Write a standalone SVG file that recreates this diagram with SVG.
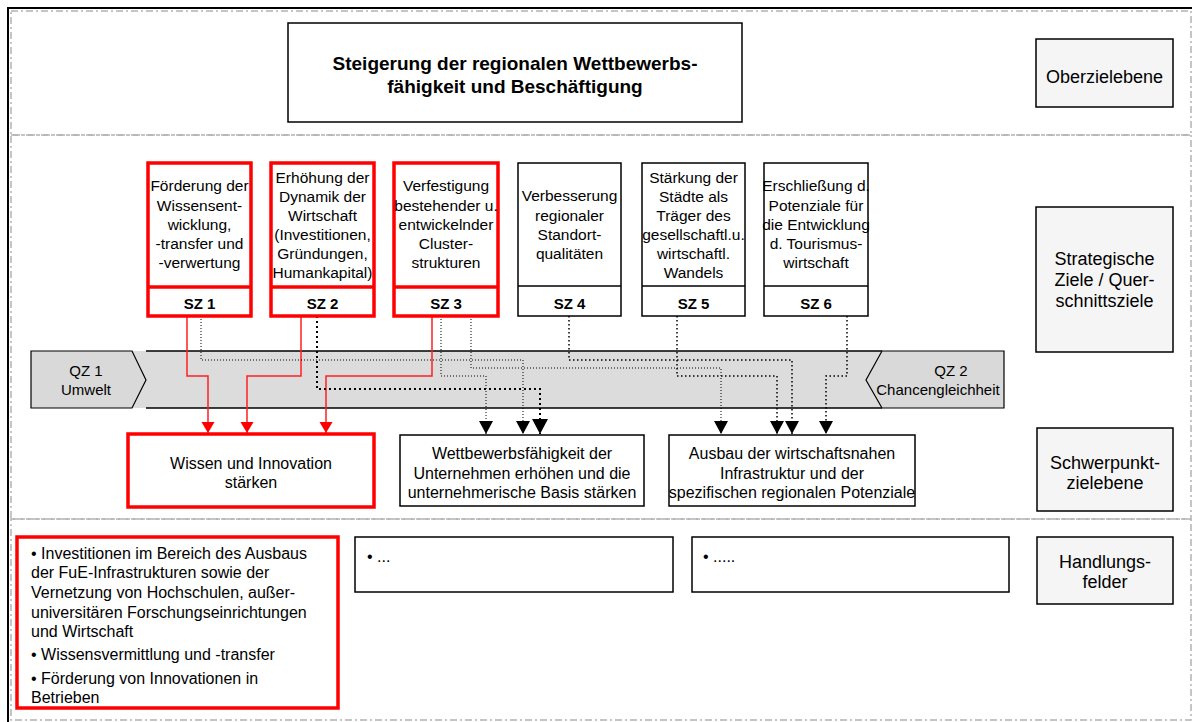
<svg xmlns="http://www.w3.org/2000/svg" width="1195" height="722" viewBox="0 0 1195 722">
<style>
text{font-family:"Liberation Sans",Arial,sans-serif;fill:#000}
.t16{font-size:16px;text-anchor:middle}
.sz{font-size:15.5px;text-anchor:middle}
.szl{font-size:15px;font-weight:bold;text-anchor:middle}
.lab{font-size:18px;text-anchor:middle}
.bl{font-size:16px}
.frame{fill:none;stroke:#b3b3b3;stroke-width:1.5;stroke-dasharray:7 3 2 3}
.box{fill:#fff;stroke:#000;stroke-width:1.5}
.rbox{fill:#fff;stroke:#ff0000;stroke-width:3.5}
.lbox{fill:#f5f5f5;stroke:#000;stroke-width:1.5}
.red{fill:none;stroke:#ff2020;stroke-width:1.5}
.d1{fill:none;stroke:#000;stroke-width:1;stroke-dasharray:1 2}
.d2{fill:none;stroke:#000;stroke-width:2;stroke-dasharray:2 3}
.d3{fill:none;stroke:#000;stroke-width:1.5;stroke-dasharray:1.5 2.5}
</style>
<defs>
<marker id="ab" markerUnits="userSpaceOnUse" markerWidth="16" markerHeight="14" refX="7" refY="13" orient="0" viewBox="0 0 14 14"><path d="M0,0 L14,0 L7,13 Z" fill="#000"/></marker>
<marker id="abl" markerUnits="userSpaceOnUse" markerWidth="18" markerHeight="16" refX="8" refY="15" orient="0" viewBox="0 0 16 16"><path d="M0,0 L16,0 L8,15 Z" fill="#000"/></marker>
<marker id="ar" markerUnits="userSpaceOnUse" markerWidth="14" markerHeight="12" refX="6.5" refY="11" orient="0" viewBox="0 0 13 12"><path d="M0,0 L13,0 L6.5,11 Z" fill="#ff0000"/></marker>
</defs>
<rect x="0" y="0" width="1195" height="722" fill="#fff"/>
<g id="frame">
<rect class="frame" x="11" y="11" width="1180" height="124"/>
<rect class="frame" x="11" y="135" width="1180" height="384"/>
<rect class="frame" x="11" y="519" width="1180" height="201"/>
<path d="M8,722 V8 H1192" fill="none" stroke="#000" stroke-width="2"/>
</g>
<g id="qz-band">
<rect x="132" y="351" width="750" height="57" fill="#dcdcdc"/>
<path d="M146,351 H882 M146,408 H882" stroke="#000" stroke-width="1.5"/>
</g>
<g id="qz1">
<path d="M31,351 H132 L146,380 L132,408 H31 Z" fill="#d9d9d9" stroke="#000" stroke-width="1.2"/>
<text class="t16" x="86" y="376" style="font-size:15px">QZ 1</text>
<text class="t16" x="86" y="395" style="font-size:15px">Umwelt</text>
</g>
<g id="qz2">
<path d="M882,351 H1004 V408 H882 L866,380 Z" fill="#d9d9d9" stroke="#000" stroke-width="1.2"/>
<text class="t16" x="951" y="376" style="font-size:15px">QZ 2</text>
<text class="t16" x="938" y="395" style="font-size:15px">Chancengleichheit</text>
</g>
<g id="connectors">
<path class="red" d="M187,316 V376 H208 V433" marker-end="url(#ar)"/>
<path class="red" d="M301,316 V376 H247 V433" marker-end="url(#ar)"/>
<path class="red" d="M432,316 V376 H326 V433" marker-end="url(#ar)"/>
<path class="d1" d="M201,316 V360 H523 V434" marker-end="url(#ab)"/>
<path class="d2" d="M317,316 V389 H540 V434" marker-end="url(#abl)"/>
<path class="d1" d="M441,316 V376 H486 V434" marker-end="url(#ab)"/>
<path class="d1" d="M471,316 V368 H721 V434" marker-end="url(#ab)"/>
<path class="d3" d="M569,316 V360 H792 V434" marker-end="url(#ab)"/>
<path class="d3" d="M677,316 V376 H777 V434" marker-end="url(#ab)"/>
<path class="d3" d="M847,316 V376 H826 V434" marker-end="url(#ab)"/>
</g>
<g id="oberziel">
<rect class="box" x="288" y="23" width="454" height="99"/>
<text x="515" y="70" style="font-size:19px;font-weight:bold;text-anchor:middle">Steigerung der regionalen Wettbewerbs-</text>
<text x="515" y="93" style="font-size:19px;font-weight:bold;text-anchor:middle">fähigkeit und Beschäftigung</text>
</g>
<g id="sz1">
<rect class="rbox" x="148" y="163" width="103" height="153"/>
<line x1="148" y1="287" x2="251" y2="287" stroke="#ff0000" stroke-width="3.5"/>
<text class="sz" x="199.5" y="191">Förderung der</text>
<text class="sz" x="199.5" y="211">Wissensent-</text>
<text class="sz" x="199.5" y="230">wicklung,</text>
<text class="sz" x="199.5" y="249">-transfer und</text>
<text class="sz" x="199.5" y="268">-verwertung</text>
<text class="szl" x="199.5" y="309">SZ 1</text>
</g>
<g id="sz2">
<rect class="rbox" x="271" y="163" width="103" height="153"/>
<line x1="271" y1="287" x2="374" y2="287" stroke="#ff0000" stroke-width="3.5"/>
<text class="sz" x="322.5" y="183">Erhöhung der</text>
<text class="sz" x="322.5" y="202">Dynamik der</text>
<text class="sz" x="322.5" y="221">Wirtschaft</text>
<text class="sz" x="322.5" y="240">(Investitionen,</text>
<text class="sz" x="322.5" y="259">Gründungen,</text>
<text class="sz" x="322.5" y="278">Humankapital)</text>
<text class="szl" x="322.5" y="309">SZ 2</text>
</g>
<g id="sz3">
<rect class="rbox" x="394" y="163" width="104" height="153"/>
<line x1="394" y1="287" x2="498" y2="287" stroke="#ff0000" stroke-width="3.5"/>
<text class="sz" x="446" y="191">Verfestigung</text>
<text class="sz" x="446" y="211">bestehender u.</text>
<text class="sz" x="446" y="230">entwickelnder</text>
<text class="sz" x="446" y="249">Cluster-</text>
<text class="sz" x="446" y="268">strukturen</text>
<text class="szl" x="446" y="309">SZ 3</text>
</g>
<g id="sz4">
<rect class="box" x="518" y="163" width="103" height="153"/>
<line x1="518" y1="286" x2="621" y2="286" stroke="#000" stroke-width="1.5"/>
<text class="sz" x="569.5" y="201">Verbesserung</text>
<text class="sz" x="569.5" y="221">regionaler</text>
<text class="sz" x="569.5" y="240">Standort-</text>
<text class="sz" x="569.5" y="259">qualitäten</text>
<text class="szl" x="569.5" y="309">SZ 4</text>
</g>
<g id="sz5">
<rect class="box" x="642" y="163" width="103" height="153"/>
<line x1="642" y1="286" x2="745" y2="286" stroke="#000" stroke-width="1.5"/>
<text class="sz" x="693.5" y="183">Stärkung der</text>
<text class="sz" x="693.5" y="202">Städte als</text>
<text class="sz" x="693.5" y="221">Träger des</text>
<text class="sz" x="693.5" y="240">gesellschaftl.u.</text>
<text class="sz" x="693.5" y="259">wirtschaftl.</text>
<text class="sz" x="693.5" y="278">Wandels</text>
<text class="szl" x="693.5" y="309">SZ 5</text>
</g>
<g id="sz6">
<rect class="box" x="764" y="163" width="104" height="153"/>
<line x1="764" y1="286" x2="868" y2="286" stroke="#000" stroke-width="1.5"/>
<text class="sz" x="816" y="191">Erschließung d.</text>
<text class="sz" x="816" y="211">Potenziale für</text>
<text class="sz" x="816" y="230">die Entwicklung</text>
<text class="sz" x="816" y="249">d. Tourismus-</text>
<text class="sz" x="816" y="268">wirtschaft</text>
<text class="szl" x="816" y="309">SZ 6</text>
</g>
<g id="spz1">
<rect class="rbox" x="128" y="434" width="246" height="73"/>
<text class="t16" x="251" y="469">Wissen und Innovation</text>
<text class="t16" x="251" y="488">stärken</text>
</g>
<g id="spz2">
<rect class="box" x="400" y="435" width="244" height="71"/>
<text class="t16" x="522" y="459">Wettbewerbsfähigkeit der</text>
<text class="t16" x="522" y="479">Unternehmen erhöhen und die</text>
<text class="t16" x="522" y="498">unternehmerische Basis stärken</text>
</g>
<g id="spz3">
<rect class="box" x="669" y="435" width="246" height="71"/>
<text class="t16" x="792" y="459">Ausbau der wirtschaftsnahen</text>
<text class="t16" x="792" y="479">Infrastruktur und der</text>
<text class="t16" x="792" y="498">spezifischen regionalen Potenziale</text>
</g>
<g id="hf1">
<rect class="rbox" x="17" y="537" width="321" height="171"/>
<text class="bl" x="31" y="559">• Investitionen im Bereich des Ausbaus</text>
<text class="bl" x="31" y="578">der FuE-Infrastrukturen sowie der</text>
<text class="bl" x="31" y="598">Vernetzung von Hochschulen, außer-</text>
<text class="bl" x="31" y="618">universitären Forschungseinrichtungen</text>
<text class="bl" x="31" y="637">und Wirtschaft</text>
<text class="bl" x="31" y="660">• Wissensvermittlung und -transfer</text>
<text class="bl" x="31" y="684">• Förderung von Innovationen in</text>
<text class="bl" x="31" y="703">Betrieben</text>
</g>
<g id="hf2">
<rect class="box" x="355" y="537" width="318" height="55"/>
<text class="bl" x="367" y="562">• ...</text>
</g>
<g id="hf3">
<rect class="box" x="692" y="537" width="317" height="55"/>
<text class="bl" x="703" y="562">• .....</text>
</g>
<g id="lab1">
<rect class="lbox" x="1036" y="39" width="137" height="68"/>
<text class="lab" x="1104.5" y="83">Oberzielebene</text>
</g>
<g id="lab2">
<rect class="lbox" x="1036" y="207" width="137" height="145"/>
<text class="lab" x="1104.5" y="265">Strategische</text>
<text class="lab" x="1104.5" y="286">Ziele / Quer-</text>
<text class="lab" x="1104.5" y="307">schnittsziele</text>
</g>
<g id="lab3">
<rect class="lbox" x="1037" y="428" width="136" height="83"/>
<text class="lab" x="1105" y="469">Schwerpunkt-</text>
<text class="lab" x="1105" y="489">zielebene</text>
</g>
<g id="lab4">
<rect class="lbox" x="1037" y="537" width="136" height="67"/>
<text class="lab" x="1105" y="568">Handlungs-</text>
<text class="lab" x="1105" y="588">felder</text>
</g>
</svg>
